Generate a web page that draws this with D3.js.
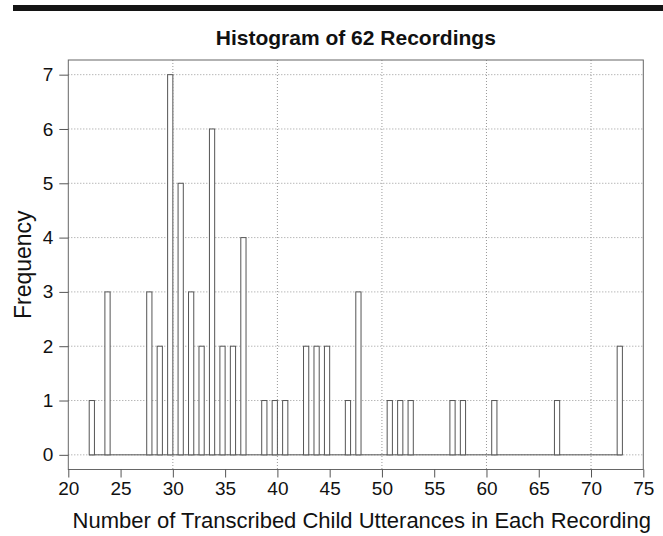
<!DOCTYPE html>
<html>
<head>
<meta charset="utf-8">
<script src="https://cdn.jsdelivr.net/npm/d3@7"></script>
<style>
	body { margin: 0; background: #fff; }
	svg { display: block; font-family: "Liberation Sans", Arial, sans-serif; }
	.axis path, .axis line { stroke: #555; }
</style>
</head>
<body>
<script>
// SVG Size
let width = 663,
	height = 536;

// left edge of each 0.5-wide bin (right-closed bins, first bin includes 22)
const binStart = [22, 23.5, 27.5, 28.5, 29.5, 30.5, 31.5, 32.5, 33.5, 34.5, 35.5, 36.5,
	38.5, 39.5, 40.5, 42.5, 43.5, 44.5, 46.5, 47.5, 50.5, 51.5, 52.5,
	56.5, 57.5, 60.5, 66.5, 72.5];
const counts = [1, 3, 3, 2, 7, 5, 3, 2, 6, 2, 2, 4,
	1, 1, 1, 2, 2, 2, 1, 3, 1, 1, 1,
	1, 1, 1, 1, 2];
const binWidth = 0.5;
const histRange = [22, 73];

const xTicks = [20, 25, 30, 35, 40, 45, 50, 55, 60, 65, 70, 75];
const xGrid = [30, 40, 50, 60, 70];
const yTicks = [0, 1, 2, 3, 4, 5, 6, 7];

let bins = binStart.map(function(d, i) {
	return {x0: d, x1: d + binWidth, count: counts[i]};
});

// margin convention (plot box)
let margin = {top: 60, right: 19.7, left: 68.3, bottom: 66.5};
let w = width - margin.left - margin.right,
	h = height - margin.top - margin.bottom;

let svg = d3.select("body").append("svg")
	.attr("width", width)
	.attr("height", height);

// black rule at the very top
svg.append("rect")
	.attr("x", 13)
	.attr("y", 5)
	.attr("width", width - 13)
	.attr("height", 6)
	.attr("fill", "#141414");

let g = svg.append("g")
	.attr("transform", "translate(" + margin.left + "," + margin.top + ")");

let x = d3.scaleLinear()
	.domain([20, 75])
	.range([0, w]);

let y = d3.scaleLinear()
	.domain([-0.27, 7.27])
	.range([h, 0]);

// dotted grid
g.selectAll(".hgrid")
	.data(yTicks)
	.enter()
	.append("line")
	.attr("class", "hgrid")
	.attr("x1", 0)
	.attr("x2", w)
	.attr("y1", function(d) { return y(d); })
	.attr("y2", function(d) { return y(d); })
	.attr("stroke", "#999")
	.attr("stroke-dasharray", "1,2");

g.selectAll(".vgrid")
	.data(xGrid)
	.enter()
	.append("line")
	.attr("class", "vgrid")
	.attr("y1", 0)
	.attr("y2", h)
	.attr("x1", function(d) { return x(d); })
	.attr("x2", function(d) { return x(d); })
	.attr("stroke", "#999")
	.attr("stroke-dasharray", "1,2");

// empty bins show as a line along zero
g.append("line")
	.attr("x1", x(histRange[0]))
	.attr("x2", x(histRange[1]))
	.attr("y1", y(0))
	.attr("y2", y(0))
	.attr("stroke", "#555");

// bars
g.selectAll(".bar")
	.data(bins)
	.enter()
	.append("rect")
	.attr("class", "bar")
	.attr("x", function(d) { return x(d.x0); })
	.attr("width", function(d) { return x(d.x1) - x(d.x0); })
	.attr("y", function(d) { return y(d.count); })
	.attr("height", function(d) { return y(0) - y(d.count); })
	.attr("fill", "#fff")
	.attr("stroke", "#555");

// plot box
g.append("rect")
	.attr("width", w)
	.attr("height", h)
	.attr("fill", "none")
	.attr("stroke", "#666");

// axes, drop the domain path (box already drawn) and enlarge labels
let styleAxis = function(s) {
	s.select(".domain").remove();
	s.selectAll("text")
		.style("font-family", "'Liberation Sans', Arial, sans-serif")
		.style("font-size", "19px")
		.style("fill", "#111");
};

let xAxis = d3.axisBottom(x).tickValues(xTicks).tickSize(8).tickPadding(4);
let yAxis = d3.axisLeft(y).tickValues(yTicks).tickSize(9).tickPadding(6);

g.append("g")
	.attr("class", "axis")
	.attr("transform", "translate(0," + h + ")")
	.call(xAxis)
	.call(styleAxis);

g.append("g")
	.attr("class", "axis")
	.call(yAxis)
	.call(styleAxis);

// title
svg.append("text")
	.attr("x", margin.left + w / 2)
	.attr("y", 45)
	.attr("text-anchor", "middle")
	.attr("font-size", "21px")
	.attr("font-weight", "bold")
	.attr("fill", "#111")
	.text("Histogram of 62 Recordings");

// x-axis label
svg.append("text")
	.attr("x", margin.left + w / 2 + 6)
	.attr("y", 528)
	.attr("text-anchor", "middle")
	.attr("font-size", "22px")
	.attr("fill", "#111")
	.text("Number of Transcribed Child Utterances in Each Recording");

// y-axis label
svg.append("text")
	.attr("transform", "translate(31," + (margin.top + h / 2) + ") rotate(-90)")
	.attr("text-anchor", "middle")
	.attr("font-size", "23px")
	.attr("fill", "#111")
	.text("Frequency");
</script>
</body>
</html>
